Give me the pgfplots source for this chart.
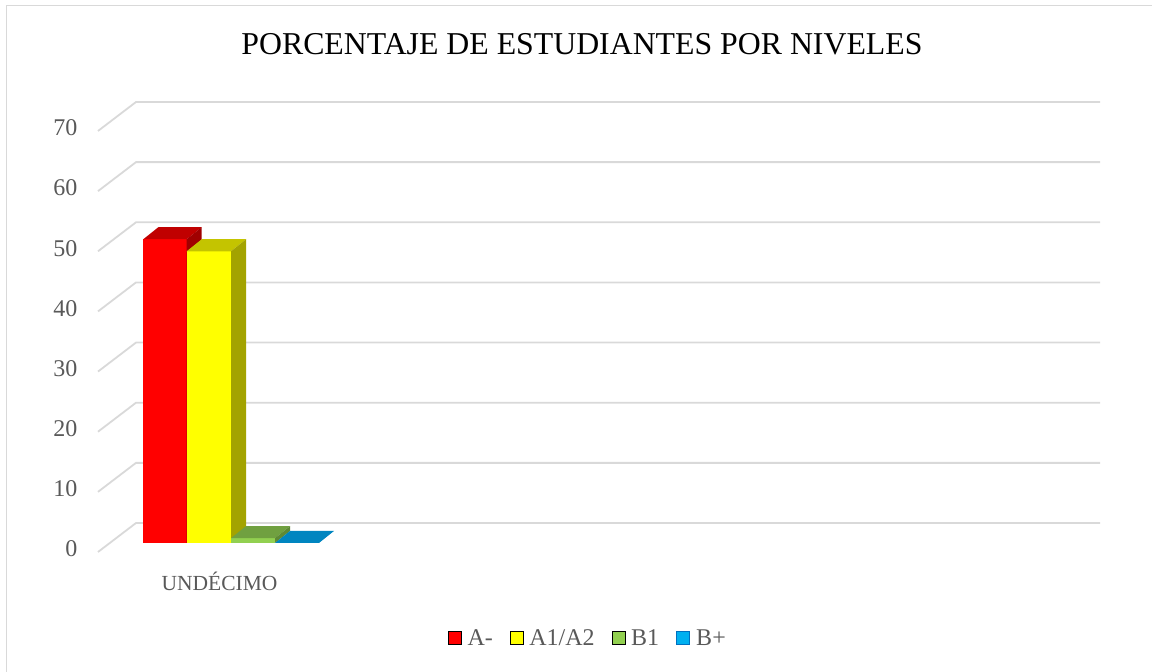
\documentclass[border=0pt]{standalone}
\usepackage{fontspec}
\setmainfont{Liberation Serif}
\usepackage{pgfplots}
\pgfplotsset{compat=1.18}
\definecolor{gridc}{HTML}{D9D9D9}
\definecolor{txt}{HTML}{595959}
\definecolor{redF}{HTML}{FF0000}
\definecolor{redT}{HTML}{C00000}
\definecolor{redS}{HTML}{A00000}
\definecolor{yelF}{HTML}{FFFF00}
\definecolor{yelT}{HTML}{C4C400}
\definecolor{yelS}{HTML}{A3A300}
\definecolor{grnF}{HTML}{92D050}
\definecolor{grnT}{HTML}{70A040}
\definecolor{grnS}{HTML}{5E8A35}
\definecolor{bluF}{HTML}{00B0F0}
\definecolor{bluT}{HTML}{0085C0}
\definecolor{bluS}{HTML}{006E9E}
\definecolor{bluD}{HTML}{0070C0}
\begin{document}
\begin{tikzpicture}
\path[use as bounding box] (0pt,0pt) rectangle (1152pt,672pt);
\draw[gridc, line width=1.5pt] (6.5pt,0pt) -- (6.5pt,666.5pt) -- (1152pt,666.5pt);
\node[anchor=base, font=\fontsize{31.8}{33}\selectfont, text=black, inner sep=0pt] at (582pt,617.7pt) {PORCENTAJE DE ESTUDIANTES POR NIVELES};
\begin{axis}[
  at={(98pt,120pt)}, anchor=south west,
  scale only axis, width=1002pt, height=450pt,
  xmin=98, xmax=1100, ymin=0, ymax=74.82,
  axis line style={draw=none},
  xtick=\empty,
  ytick={0,10,...,70},
  major tick length=0pt,
  clip=false,
  /pgf/number format/assume math mode=true,
  yticklabel style={font=\fontsize{24}{24}\selectfont, text=txt, anchor=east, xshift=-17pt, yshift=3pt},
  legend columns=4,
  legend style={at={(0.488,-0.191)}, anchor=center, draw=none, fill=none,
    font=\fontsize{24}{24}\selectfont, text=txt,
    nodes={inner xsep=0pt},
    /tikz/every odd column/.append style={column sep=6pt},
    /tikz/every even column/.append style={column sep=17pt}},
  legend image code/.code={\fill[#1] (0pt,-6.5pt) rectangle (13pt,6.5pt);},
]
% gridlines (front value -> back wall)
\addplot[gridc, line width=1.8pt, forget plot] coordinates {(98,0) (136,4.82) (1100,4.82)};
\addplot[gridc, line width=1.8pt, forget plot] coordinates {(98,10) (136,14.82) (1100,14.82)};
\addplot[gridc, line width=1.8pt, forget plot] coordinates {(98,20) (136,24.82) (1100,24.82)};
\addplot[gridc, line width=1.8pt, forget plot] coordinates {(98,30) (136,34.82) (1100,34.82)};
\addplot[gridc, line width=1.8pt, forget plot] coordinates {(98,40) (136,44.82) (1100,44.82)};
\addplot[gridc, line width=1.8pt, forget plot] coordinates {(98,50) (136,54.82) (1100,54.82)};
\addplot[gridc, line width=1.8pt, forget plot] coordinates {(98,60) (136,64.82) (1100,64.82)};
\addplot[gridc, line width=1.8pt, forget plot] coordinates {(98,70) (136,74.82) (1100,74.82)};
% A- = 50.5  (base 1.5, top 52.0)
\addplot[fill=redF, draw=none, forget plot] coordinates {(143.3,1.5) (186.7,1.5) (186.7,52.0) (143.3,52.0)} --cycle;
\addplot[fill=redT, draw=none, forget plot] coordinates {(143.3,52.0) (186.7,52.0) (201.7,54.0) (158.3,54.0)} --cycle;
\addplot[fill=redS, draw=none, forget plot] coordinates {(186.7,1.5) (201.7,3.5) (201.7,54.0) (186.7,52.0)} --cycle;
% A1/A2 = 48.5 (top 50.0)
\addplot[fill=yelF, draw=none, forget plot] coordinates {(186.7,1.5) (231.0,1.5) (231.0,50.0) (186.7,50.0)} --cycle;
\addplot[fill=yelT, draw=none, forget plot] coordinates {(186.7,50.0) (231.0,50.0) (246.0,52.0) (201.7,52.0)} --cycle;
\addplot[fill=yelS, draw=none, forget plot] coordinates {(231.0,1.5) (246.0,3.5) (246.0,52.0) (231.0,50.0)} --cycle;
% B1 = 0.8 (top 2.3)
\addplot[fill=grnF, draw=none, forget plot] coordinates {(231.0,1.5) (275.0,1.5) (275.0,2.3) (231.0,2.3)} --cycle;
\addplot[fill=grnT, draw=none, forget plot] coordinates {(231.0,2.3) (275.0,2.3) (290.0,4.3) (246.0,4.3)} --cycle;
\addplot[fill=grnS, draw=none, forget plot] coordinates {(275.0,1.5) (290.0,3.5) (290.0,4.3) (275.0,2.3)} --cycle;
% B+ = 0 (top 1.5)
\addplot[fill=bluT, draw=none, forget plot] coordinates {(275.0,1.5) (319.0,1.5) (334.0,3.5) (290.0,3.5)} --cycle;
\node[anchor=base, font=\fontsize{21.5}{23}\selectfont, text=txt, inner sep=0pt] at (axis cs:219.5,-6.32) {UNDÉCIMO};
\addlegendimage{fill=redF}
\addlegendentry{A-}
\addlegendimage{fill=yelF}
\addlegendentry{A1/A2}
\addlegendimage{fill=grnF}
\addlegendentry{B1}
\addlegendimage{fill=bluF, draw=bluD, line width=1.2pt}
\addlegendentry{B+}
\end{axis}
\end{tikzpicture}
\end{document}
